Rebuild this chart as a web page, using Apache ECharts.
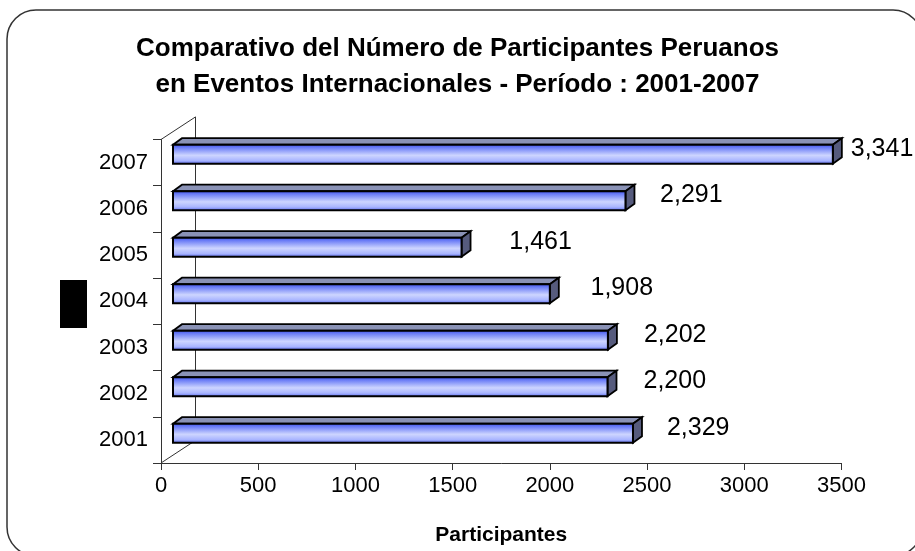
<!DOCTYPE html>
<html>
<head>
<meta charset="utf-8">
<script src="https://cdn.jsdelivr.net/npm/echarts@6/dist/echarts.min.js"></script>
<style>
html,body{margin:0;padding:0;background:#fff;}
#chart{width:915px;height:551px;}
</style>
</head>
<body>
<div id="chart"></div>
<script>
const categories = ['2001', '2002', '2003', '2004', '2005', '2006', '2007'];
const participants = [2329, 2200, 2202, 1908, 1461, 2291, 3341];
const xTickLabels = ['0', '500', '1000', '1500', '2000', '2500', '3000', '3500'];
const titleLines = ['Comparativo del Número de Participantes Peruanos', 'en Eventos Internacionales - Período : 2001-2007'];
const xAxisTitle = 'Participantes';

const FONT = '"Liberation Sans", Arial, sans-serif';
const chart = echarts.init(document.getElementById('chart'));

const frontGradient = new echarts.graphic.LinearGradient(0, 0, 0, 1, [
  { offset: 0, color: '#3446e6' },
  { offset: 0.18, color: '#6a7cf6' },
  { offset: 0.55, color: '#cdd5ff' },
  { offset: 0.8, color: '#a9b5ff' },
  { offset: 1, color: '#4c5eec' }
]);

function renderWall(params, api) {
  const cs = params.coordSys;
  const dx = 34.5, dy = 22.6;
  const x0 = cs.x, y0 = cs.y, y1 = cs.y + cs.height;
  const st = { stroke: '#333', lineWidth: 1, fill: null };
  return {
    type: 'group',
    children: [
      { type: 'line', shape: { x1: x0, y1: y0, x2: x0 + dx, y2: y0 - dy }, style: st },
      { type: 'line', shape: { x1: x0 + dx, y1: y0 - dy, x2: x0 + dx, y2: y1 - dy }, style: st },
      { type: 'line', shape: { x1: x0, y1: y1, x2: x0 + dx, y2: y1 - dy }, style: st }
    ]
  };
}

function renderBar(params, api) {
  const v = api.value(0), c = api.value(1);
  const a = api.coord([0, c]), b = api.coord([v, c]);
  const bh = api.size([0, 1])[1] * 0.41;
  const dx = 9, dy = 6.5;
  const x0 = a[0], x1 = b[0], yt = a[1] - bh / 2, yb = a[1] + bh / 2;
  return {
    type: 'group',
    children: [
      { type: 'polygon', shape: { points: [[x0, yt], [x0 + dx, yt - dy], [x1 + dx, yt - dy], [x1, yt]] },
        style: { fill: '#8a92b6', stroke: '#000', lineWidth: 1.8 } },
      { type: 'polygon', shape: { points: [[x1, yt], [x1 + dx, yt - dy], [x1 + dx, yb - dy], [x1, yb]] },
        style: { fill: '#565b7d', stroke: '#000', lineWidth: 1.8 } },
      { type: 'rect', shape: { x: x0, y: yt, width: x1 - x0, height: bh },
        style: { fill: frontGradient, stroke: '#000', lineWidth: 2 } }
    ]
  };
}

function renderLabel(params, api) {
  const v = api.value(0), c = api.value(1);
  const p = api.coord([v, c]);
  return {
    type: 'text', x: p[0], y: p[1],
    style: { text: v.toLocaleString('en-US'), fontSize: 25, fontFamily: FONT, fill: '#000', align: 'left', verticalAlign: 'middle' }
  };
}

const barData = participants.map((v, i) => [v, i]);

chart.setOption({
  backgroundColor: '#fff',
  animation: false,
  title: {
    text: titleLines.join('\n'),
    left: 'center',
    top: 26,
    textStyle: { fontSize: 26, fontWeight: 'bold', fontFamily: FONT, color: '#000', lineHeight: 36 }
  },
  grid: [
    { left: 161, right: 73.5, top: 139.5, height: 325.5 },
    { left: 173, right: 50.75, top: 131, height: 325.5 },
    { left: 244, right: 35.4, top: 125.5, height: 325.5 }
  ],
  xAxis: [
    {
      gridIndex: 0, type: 'value', min: 0, max: 3500, interval: 500,
      axisLine: { show: true, lineStyle: { color: '#333', width: 1 } },
      axisTick: { show: true, length: 7, lineStyle: { color: '#333' } },
      splitLine: { show: false },
      axisLabel: { margin: 12, fontSize: 22, fontFamily: FONT, color: '#000',
        formatter: (val, idx) => xTickLabels[idx] },
      name: xAxisTitle, nameLocation: 'middle', nameGap: 62,
      nameTextStyle: { fontSize: 21, fontWeight: 'bold', fontFamily: FONT, color: '#000' }
    },
    { gridIndex: 1, type: 'value', min: 0, max: 3500, show: false, splitLine: { show: false } },
    { gridIndex: 2, type: 'value', min: 0, max: 3500, show: false, splitLine: { show: false } }
  ],
  yAxis: [
    {
      gridIndex: 0, type: 'category', data: categories,
      axisLine: { show: true, lineStyle: { color: '#333', width: 1 } },
      axisTick: { show: true, length: 8, lineStyle: { color: '#333' } },
      axisLabel: { margin: 13, fontSize: 22, fontFamily: FONT, color: '#000' }
    },
    { gridIndex: 1, type: 'category', data: categories, show: false },
    { gridIndex: 2, type: 'category', data: categories, show: false }
  ],
  graphic: [
    { type: 'rect', shape: { x: 7, y: 10, width: 915, height: 546, r: 29 },
      style: { fill: null, stroke: '#333', lineWidth: 1.5 }, silent: true, z: 10 },
    { type: 'rect', shape: { x: 60, y: 280, width: 27, height: 48 },
      style: { fill: '#000' }, silent: true }
  ],
  series: [
    { type: 'custom', xAxisIndex: 0, yAxisIndex: 0, z: 1, data: [[0, 0]], renderItem: renderWall, silent: true },
    { type: 'custom', xAxisIndex: 1, yAxisIndex: 1, z: 2, data: barData, renderItem: renderBar },
    { type: 'custom', xAxisIndex: 2, yAxisIndex: 2, z: 3, data: barData, renderItem: renderLabel }
  ]
});
</script>
</body>
</html>
